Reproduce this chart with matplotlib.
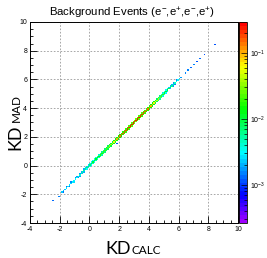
import matplotlib
matplotlib.use('Agg')
import matplotlib.pyplot as plt
import numpy as np
from matplotlib.colors import LogNorm, ListedColormap, hsv_to_rgb
from matplotlib.ticker import MultipleLocator, LogLocator

plt.rcParams['font.family'] = ['Liberation Sans', 'DejaVu Sans']
plt.rcParams['mathtext.fontset'] = 'custom'
plt.rcParams['mathtext.rm'] = 'Liberation Sans'
plt.rcParams['axes.unicode_minus'] = False

# binning of the 2D histogram (0.1 wide bins)
bin_width = 0.1
edges = np.linspace(-4, 10, 141)

# fraction of events in the bins on the diagonal (KD_MAD == KD_CALC),
# one value per KD_CALC bin, starting at the bin centred on -1.85
on_diag = [
    0.0022, 0.0024, 0.0025, 0.0026, 0.0026, 0.0027, 0.0028, 0.0029, 0.0030, 0.0032,
    0.0035, 0.0038, 0.0042, 0.0046, 0.0051, 0.0057, 0.0063, 0.0070, 0.0078, 0.0086,
    0.0095, 0.0105, 0.0115, 0.0125, 0.0135, 0.0145, 0.0155, 0.0165, 0.0180, 0.0200,
    0.0230, 0.0270, 0.0330, 0.0400, 0.0500, 0.0640, 0.0800, 0.100, 0.125, 0.150,
    0.170, 0.185, 0.200, 0.215, 0.230, 0.245, 0.260, 0.270, 0.280, 0.285,
    0.280, 0.270, 0.260, 0.245, 0.230, 0.210, 0.190, 0.170, 0.150, 0.130,
    0.110, 0.090, 0.072, 0.057, 0.045, 0.036, 0.029, 0.023, 0.019, 0.016,
    0.013, 0.011, 0.0092, 0.0078, 0.0066, 0.0055, 0.0046, 0.0039, 0.0033, 0.0028,
]

# bins one step above the diagonal
above_diag = [
    0, 0, 0, 0.0014, 0, 0, 0.0015, 0, 0, 0.0016,
    0.0017, 0, 0.0018, 0.0020, 0, 0.0021, 0.0023, 0.0022, 0.0025, 0.0027,
    0.0030, 0.0033, 0.0036, 0.0040, 0.0044, 0.0049, 0.0054, 0.0060, 0.0066, 0.0072,
    0.0078, 0.0084, 0.0090, 0.0095, 0.010, 0.011, 0.012, 0.013, 0.014, 0.015,
    0.016, 0.017, 0.018, 0.019, 0.020, 0.021, 0.022, 0.023, 0.024, 0.025,
    0.025, 0.024, 0.023, 0.022, 0.021, 0.020, 0.019, 0.018, 0.017, 0.016,
    0.015, 0.013, 0.012, 0.010, 0.0085, 0.0070, 0.0060, 0.0050, 0.0043, 0.0037,
    0.0032, 0.0028, 0.0025, 0.0021, 0.0019, 0.0017, 0, 0.0015, 0, 0,
]

# bins one step below the diagonal
below_diag = [
    0, 0.0013, 0, 0, 0, 0.0014, 0, 0, 0.0015, 0,
    0, 0.0016, 0.0017, 0, 0.0019, 0.0020, 0, 0.0022, 0.0024, 0.0026,
    0.0029, 0.0032, 0.0035, 0.0039, 0.0043, 0.0047, 0.0052, 0.0057, 0.0063, 0.0069,
    0.0075, 0.0081, 0.0087, 0.0093, 0.0099, 0.0105, 0.011, 0.012, 0.013, 0.014,
    0.015, 0.016, 0.017, 0.018, 0.019, 0.020, 0.021, 0.022, 0.023, 0.024,
    0.024, 0.023, 0.022, 0.021, 0.020, 0.019, 0.018, 0.017, 0.016, 0.015,
    0.014, 0.012, 0.011, 0.0095, 0.0080, 0.0068, 0.0058, 0.0049, 0.0042, 0.0036,
    0.0031, 0.0027, 0, 0.0022, 0, 0.0018, 0.0016, 0, 0, 0,
]

# isolated bins off the main band
stray_calc = [-2.45, -2.05, -1.05, -0.15, 0.25, 0.45, 1.85, 4.35, 6.15, 6.45, 6.65, 6.85, 7.05, 7.25, 7.45, 7.75, 8.45]
stray_mad = [-2.45, -2.15, -1.15, -0.25, 0.15, 0.35, 1.55, 4.45, 6.15, 6.45, 6.65, 6.85, 7.05, 7.25, 7.45, 7.75, 8.45]
stray_val = [0.0013, 0.0016, 0.0012, 0.0011, 0.0012, 0.0013, 0.0012, 0.0014, 0.0018, 0.0016,
             0.0015, 0.0013, 0.0016, 0.0012, 0.0014, 0.0012, 0.0011]

calc_centres = np.round(-1.85 + bin_width * np.arange(len(on_diag)), 2)

xs = np.concatenate([calc_centres, calc_centres, calc_centres, stray_calc])
ys = np.concatenate([calc_centres, calc_centres + bin_width, calc_centres - bin_width, stray_mad])
ws = np.concatenate([on_diag, above_diag, below_diag, stray_val])

H, _, _ = np.histogram2d(xs, ys, bins=[edges, edges], weights=ws)
H = np.ma.masked_where(H <= 0, H)

# ROOT-like 50 colour palette: violet -> blue -> cyan -> green -> yellow -> red
hues = np.linspace(0.77, 0.0, 50)
palette = hsv_to_rgb(np.column_stack([hues, np.ones(50), np.ones(50)]))
cmap = ListedColormap(palette)

fig = plt.figure(figsize=(2.67, 2.58), dpi=100)
ax = fig.add_axes([30 / 267, 35 / 258, 208 / 267, 201 / 258])
cax = fig.add_axes([239 / 267, 35 / 258, 8 / 267, 201 / 258])

mesh = ax.pcolormesh(edges, edges, H.T, cmap=cmap,
                     norm=LogNorm(vmin=2.65e-4, vmax=0.295), zorder=2)

ax.set_xlim(-4, 10)
ax.set_ylim(-4, 10)
ax.xaxis.set_major_locator(MultipleLocator(2))
ax.yaxis.set_major_locator(MultipleLocator(2))
ax.xaxis.set_minor_locator(MultipleLocator(0.5))
ax.yaxis.set_minor_locator(MultipleLocator(0.5))
ax.tick_params(which='both', direction='in', top=False, right=False,
               labelsize=5, width=0.6, pad=2)
ax.tick_params(which='major', length=5)
ax.tick_params(which='minor', length=2.5)
ax.grid(True, which='major', color='0.6', linestyle=(0, (2, 2)), linewidth=0.6, zorder=1)
ax.set_axisbelow(True)
for s in ax.spines.values():
    s.set_linewidth(0.7)

cbar = fig.colorbar(mesh, cax=cax)
cbar.outline.set_linewidth(0.6)
cax.yaxis.set_major_locator(LogLocator(base=10))
cax.yaxis.set_minor_locator(LogLocator(base=10, subs=np.arange(2, 10)))
cax.tick_params(which='both', direction='in', labelsize=5, width=0.5, pad=2.5)
cax.tick_params(which='major', length=4)
cax.tick_params(which='minor', length=2)

fig.text(132 / 267, 1 - 13 / 258, r'Background Events (e$^{-}$,e$^{+}$,e$^{-}$,e$^{+}$)',
         ha='center', va='center', fontsize=8.2)

# axis labels with the subscript part in a smaller size on the same baseline
fig.text(105 / 267, 1 - 254 / 258, 'KD', fontsize=13, family='Lato', ha='left', va='baseline')
fig.text(132 / 267, 1 - 254 / 258, 'CALC', fontsize=8.5, family='Lato', ha='left', va='baseline')
fig.text(20 / 267, 1 - 150 / 258, 'KD', fontsize=13, family='Lato', rotation=90,
         rotation_mode='anchor', ha='left', va='baseline')
fig.text(20 / 267, 1 - 122 / 258, 'MAD', fontsize=8.5, family='Lato', rotation=90,
         rotation_mode='anchor', ha='left', va='baseline')

fig.savefig('out.png', dpi=100)
